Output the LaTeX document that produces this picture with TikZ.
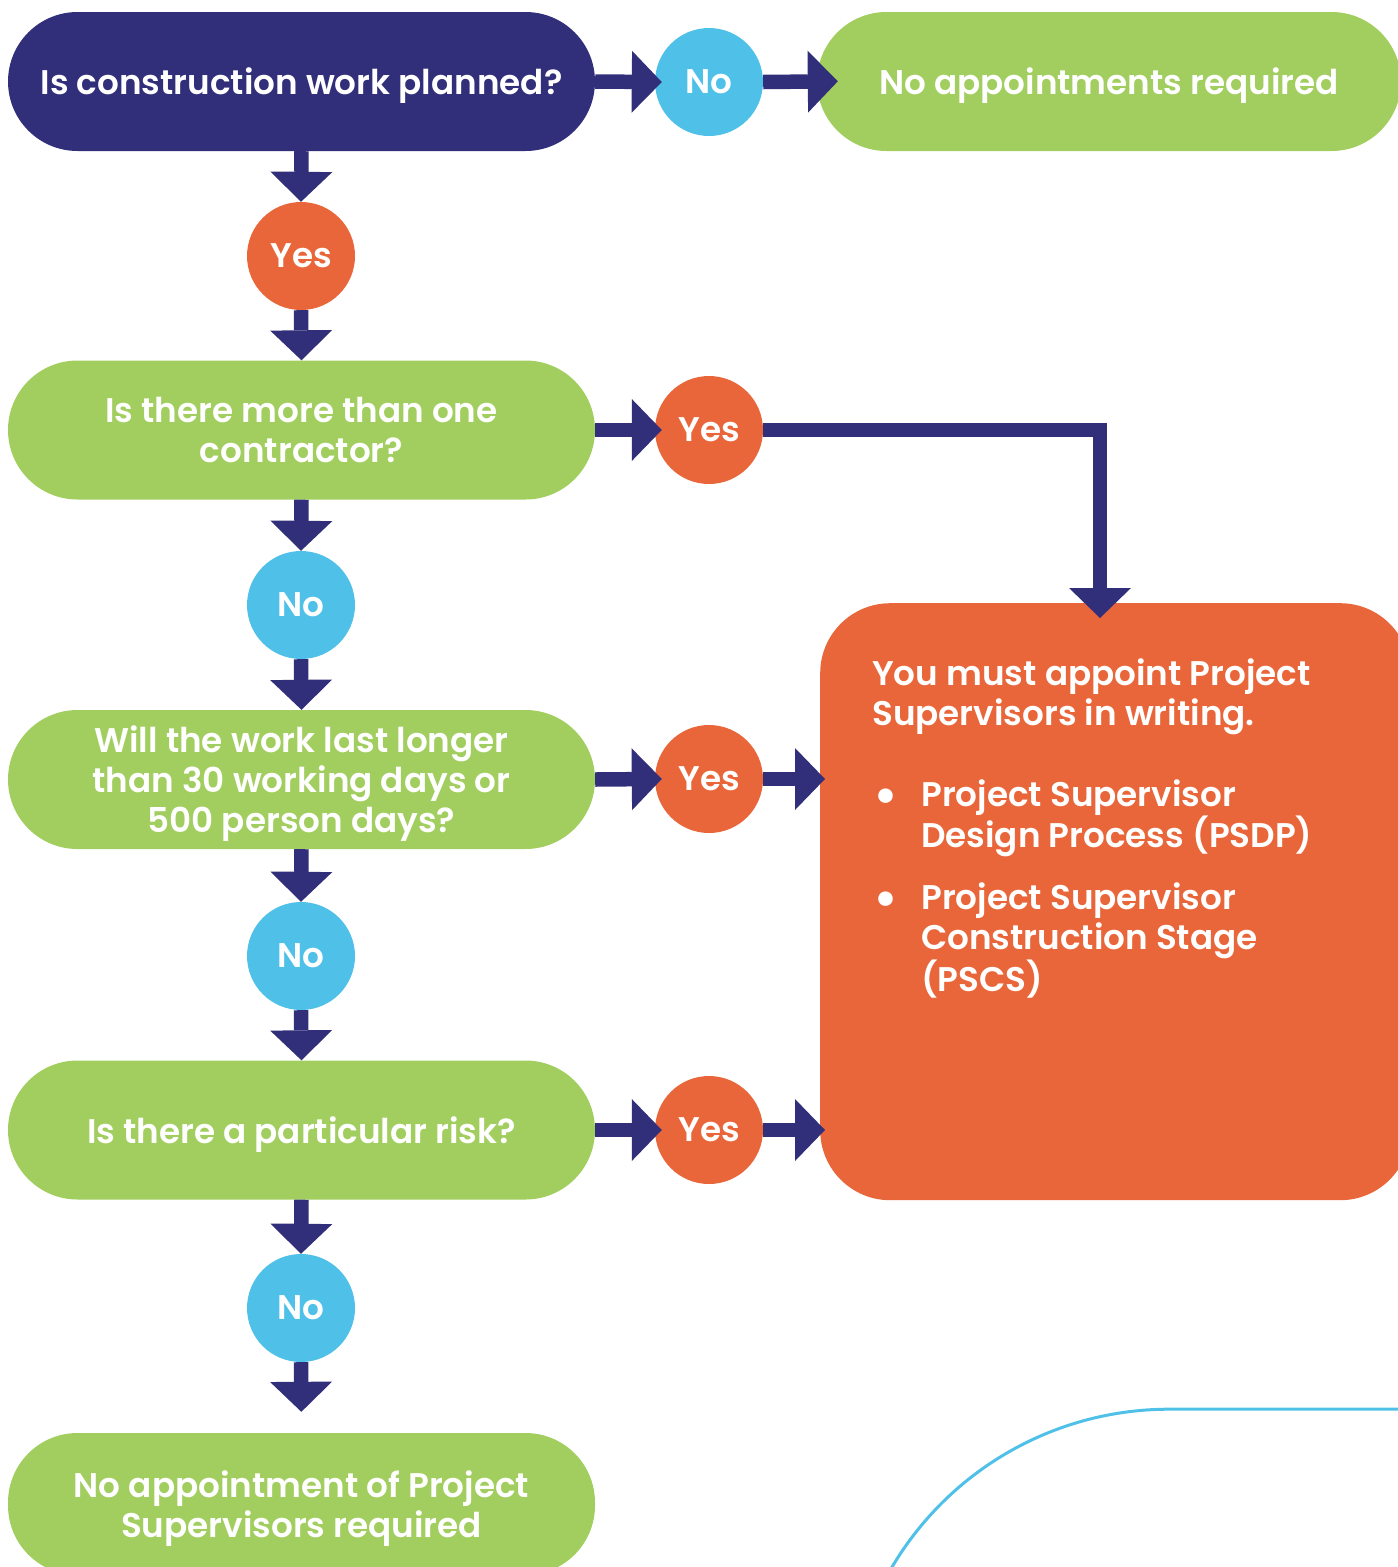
\documentclass[tikz,border=0pt]{standalone}
\usepackage{fontspec}
\setmainfont{Poppins}[BoldFont={Poppins SemiBold}]
\usetikzlibrary{arrows.meta}
\definecolor{navy}{RGB}{50,47,122}
\definecolor{sky}{RGB}{79,193,233}
\definecolor{orng}{RGB}{233,102,58}
\definecolor{grn}{RGB}{162,206,96}
\newcommand{\bigbul}{\makebox[49pt][l]{\kern1pt\raisebox{-7pt}{\fontsize{52}{40}\selectfont\textbullet}}}
\begin{document}
\begin{tikzpicture}[x=1pt,y=-1pt,
  font=\bfseries\fontsize{34.2}{40}\selectfont,
  pill/.style={rectangle, rounded corners=69.5pt, minimum width=587pt, minimum height=139pt, inner sep=0pt, text=white, align=center, text depth=0pt},
  dot/.style={circle, minimum size=108pt, inner sep=0pt, text=white},
  yesdot/.style={dot, fill=orng},
  nodot/.style={dot, fill=sky},
  arr/.style={draw=navy, line width=14.5pt, -{Triangle[width=62pt,length=30pt,line width=0pt]}}]
\useasboundingbox (0,0) rectangle (1398,1567);
\clip (0,0) rectangle (1398,1567);
% decorative curve
\draw[sky, line width=3pt] (877.2,1595.1) arc[start angle=205, end angle=270, radius=322] -- (1410,1409);
% nodes
\node[pill, fill=navy] (q1) at (301.5,81.5) {Is construction work planned?};
\node[nodot] (n1) at (709,82) {No};
\node[pill, fill=grn, minimum width=584pt] (r1) at (1109,81.5) {No appointments required};
\node[yesdot] (y1) at (301,256) {Yes};
\node[pill, fill=grn] (q2) at (301.5,430) {Is there more than one\\contractor?};
\node[yesdot] (y2) at (709,430) {Yes};
\node[nodot] (n2) at (301,605) {No};
\node[pill, fill=grn] (q3) at (301.5,779.5) {Will the work last longer\\than 30 working days or\\500 person days?};
\node[yesdot] (y3) at (709,779) {Yes};
\node[nodot] (n3) at (301,956) {No};
\node[pill, fill=grn] (q4) at (301.5,1130) {Is there a particular risk?};
\node[yesdot] (y4) at (709,1130) {Yes};
\node[nodot] (n4) at (301,1308) {No};
\node[pill, fill=grn, minimum height=142pt] (q5) at (301.5,1504) {No appointment of Project\\Supervisors required};
\node[rectangle, fill=orng, rounded corners=70pt, minimum width=590pt, minimum height=597pt, inner sep=0pt, anchor=north west] (must) at (820,603) {};
\node[anchor=north west, align=left, text=white, inner sep=0pt] (musttext) at (872,658) {You must appoint Project\\Supervisors in writing.\\[41pt]\bigbul Project Supervisor\\\hspace*{49pt}Design Process (PSDP)\\[22pt]\bigbul Project Supervisor\\\hspace*{49pt}Construction Stage\\\hspace*{49pt}(PSCS)};
\coordinate (mtop) at (1100,603);
% connectors
\draw[arr, shorten >=-7pt] (q1.east) -- (n1.west);
\draw[arr, shorten >=-21pt] (n1.east) -- (r1.west);
\draw[arr] (q1.south) -- (y1.north);
\draw[arr] (y1.south) -- (q2.north);
\draw[arr, shorten >=-7pt] (q2.east) -- (y2.west);
\draw[arr, shorten >=-15pt] (y2.east) -| (mtop);
\draw[arr] (q2.south) -- (n2.north);
\draw[arr] (n2.south) -- (q3.north);
\draw[arr, shorten >=-7pt] (q3.east) -- (y3.west);
\draw[arr, shorten >=-5pt] (y3.east) -- (y3.east -| must.west);
\draw[arr] (q3.south) -- (n3.north);
\draw[arr] (n3.south) -- (q4.north);
\draw[arr, shorten >=-7pt] (q4.east) -- (y4.west);
\draw[arr, shorten >=-5pt] (y4.east) -- (y4.east -| must.west);
\draw[arr] (q4.south) -- (n4.north);
\draw[arr, shorten >=21pt] (n4.south) -- (q5.north);
\end{tikzpicture}
\end{document}
